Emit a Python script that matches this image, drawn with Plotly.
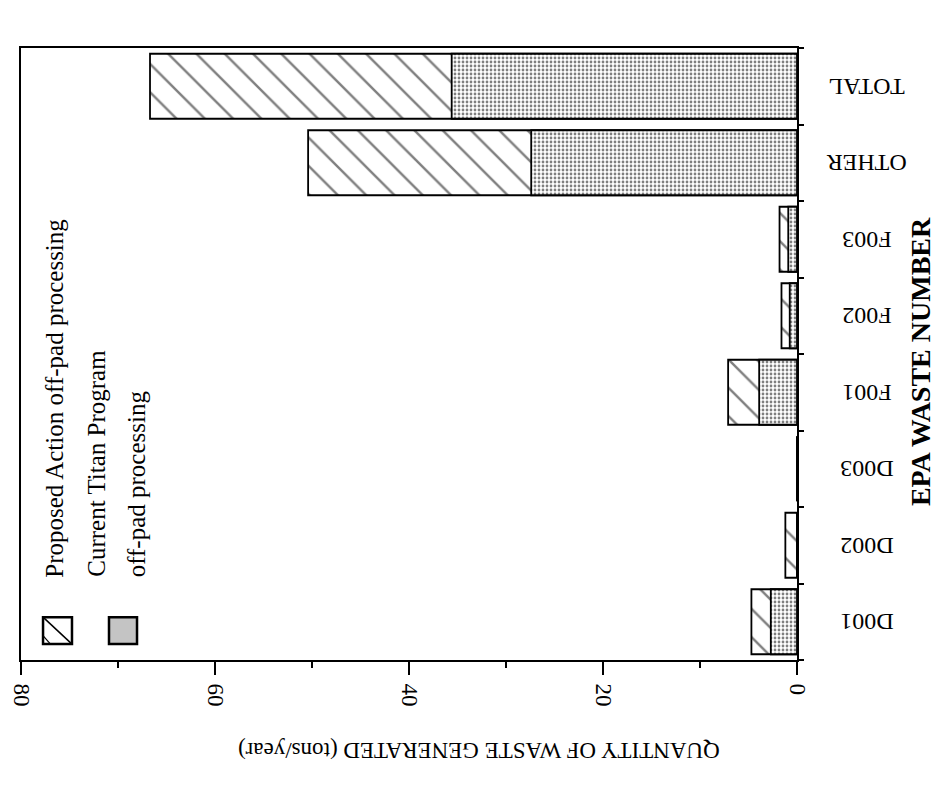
import plotly.graph_objects as go

categories = ["D001", "D002", "D003", "F001", "F002", "F003", "OTHER", "TOTAL"]
proposed_action = [4.7, 1.2, 0.0, 7.1, 1.6, 1.8, 50.4, 66.7]
current_titan = [2.7, 0.0, 0.0, 3.9, 0.75, 0.9, 27.4, 35.6]
value_ticks = [0, 20, 40, 60, 80]

FONT = "Liberation Serif, Times New Roman, serif"

fig = go.Figure()
fig.add_trace(go.Bar(
    y=categories, x=proposed_action, orientation="h",
    name="Proposed Action off-pad processing",
    marker=dict(color="white", line=dict(color="black", width=1.8),
                pattern=dict(shape="\\", fgcolor="black", bgcolor="white",
                             size=20, solidity=0.12)),
))
fig.add_trace(go.Bar(
    y=categories, x=current_titan, orientation="h",
    name="Current Titan Program off-pad processing",
    marker=dict(color="white", line=dict(color="black", width=1.8),
                pattern=dict(shape=".", fgcolor="black", bgcolor="white",
                             size=4, solidity=0.38)),
))

fig.update_layout(
    width=939, height=789,
    margin=dict(l=13, r=150, t=40, b=137),
    paper_bgcolor="white", plot_bgcolor="white",
    barmode="overlay", bargap=0.15,
    showlegend=False,
    font=dict(family=FONT, color="black"),
)

fig.update_xaxes(
    range=[80, 0], tickvals=value_ticks, ticktext=[str(v) for v in value_ticks],
    showgrid=False, zeroline=False, automargin=False,
    showline=True, linewidth=2, linecolor="black", mirror=True,
    ticks="outside", ticklen=13, tickwidth=2, tickcolor="black",
    minor=dict(dtick=10, ticks="outside", ticklen=6, tickwidth=1.5, tickcolor="black"),
    tickangle=90, tickfont=dict(size=23, family=FONT), ticklabelstandoff=4,
    ticklabeloverflow="allow",
)
fig.update_yaxes(
    type="category", categoryorder="array", categoryarray=categories,
    side="right", showgrid=False, zeroline=False, automargin=False,
    showline=True, linewidth=2, linecolor="black", mirror=True,
    ticks="outside", tickson="boundaries", ticklen=5, tickwidth=2, tickcolor="black",
    showticklabels=False,
)

annotations = [
    dict(text=c, textangle=180, x=1.09, y=c, xref="paper", yref="y",
         xanchor="center", yanchor="middle", showarrow=False,
         font=dict(size=24, family=FONT))
    for c in categories
]
annotations += [
    dict(text="QUANTITY OF WASTE GENERATED (tons/year)", textangle=180,
         x=0.59, y=-0.149, xref="paper", yref="paper",
         xanchor="center", yanchor="middle", showarrow=False,
         font=dict(size=23, family=FONT)),
    dict(text="<b>EPA WASTE NUMBER</b>", textangle=-90,
         x=1.16, y=0.487, xref="paper", yref="paper",
         xanchor="center", yanchor="middle", showarrow=False,
         font=dict(size=28, family=FONT)),
    dict(text="Proposed Action off-pad processing", textangle=-90,
         x=0.0438, y=0.132, xref="paper", yref="paper",
         xanchor="center", yanchor="bottom", showarrow=False,
         font=dict(size=25, family=FONT)),
    dict(text="Current Titan Program", textangle=-90,
         x=0.098, y=0.132, xref="paper", yref="paper",
         xanchor="center", yanchor="bottom", showarrow=False,
         font=dict(size=25, family=FONT)),
    dict(text="off-pad processing", textangle=-90,
         x=0.149, y=0.132, xref="paper", yref="paper",
         xanchor="center", yanchor="bottom", showarrow=False,
         font=dict(size=25, family=FONT)),
]
fig.update_layout(annotations=annotations)

shapes = [
    # legend swatch: hatched
    dict(type="rect", xref="paper", yref="paper", x0=0.0284, x1=0.0657, y0=0.026, y1=0.070,
         line=dict(color="black", width=2.5), fillcolor="white"),
    dict(type="line", xref="paper", yref="paper", x0=0.0284, x1=0.0657, y0=0.070, y1=0.026,
         line=dict(color="black", width=1.5)),
    dict(type="line", xref="paper", yref="paper", x0=0.0284, x1=0.038, y0=0.040, y1=0.026,
         line=dict(color="black", width=1.2)),
    # legend swatch: stippled
    dict(type="rect", xref="paper", yref="paper", x0=0.1134, x1=0.1495, y0=0.026, y1=0.070,
         line=dict(color="black", width=2.5), fillcolor="#c4c4c4"),
]
fig.update_layout(shapes=shapes)

fig.write_html("out.html")
